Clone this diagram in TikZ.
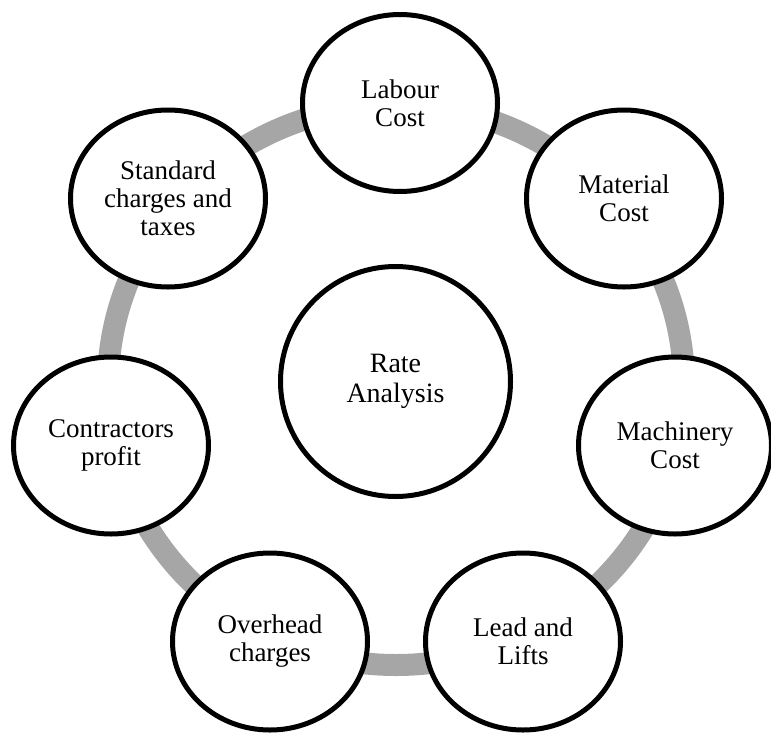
\documentclass[tikz,border=0pt]{standalone}
\usepackage{fontspec}
\setmainfont{Liberation Serif}
\usetikzlibrary{shapes.geometric}
\definecolor{ringgray}{RGB}{166,166,166}
\tikzset{
  ringline/.style={draw=ringgray, line width=22pt},
  outerbox/.style={ellipse, draw=black, fill=white, line width=5pt,
    minimum width=195pt, minimum height=177pt, inner sep=0pt,
    align=center, font=\fontsize{27}{28}\selectfont},
  centerbox/.style={circle, draw=black, fill=white, line width=5pt,
    minimum size=230pt, inner sep=0pt,
    align=center, font=\fontsize{28}{30}\selectfont}
}
\begin{document}
\begin{tikzpicture}[x=1pt,y=-1pt]
\useasboundingbox (0,0) rectangle (771,734);
\coordinate (ringc) at (396,385);
\draw[ringline] (ringc) ellipse [x radius=288pt, y radius=280pt];
\node[centerbox] (rate) at (395.5,381.5) {Rate\\Analysis};
\node[outerbox] (labour) at (400,103) {Labour\\Cost};
\node[outerbox] (material) at (624,198.5) {Material\\Cost};
\node[outerbox, minimum width=193pt] (machinery) at (675,445.5) {Machinery\\Cost};
\node[outerbox] (lead) at (523,641.5) {Lead and\\Lifts};
\node[outerbox] (overhead) at (270,641.5) {Overhead\\charges};
\node[outerbox] (contractors) at (111,445.5) {Contractors\\profit};
\node[outerbox] (standard) at (168,198.5) {Standard\\charges and\\taxes};
\end{tikzpicture}
\end{document}
